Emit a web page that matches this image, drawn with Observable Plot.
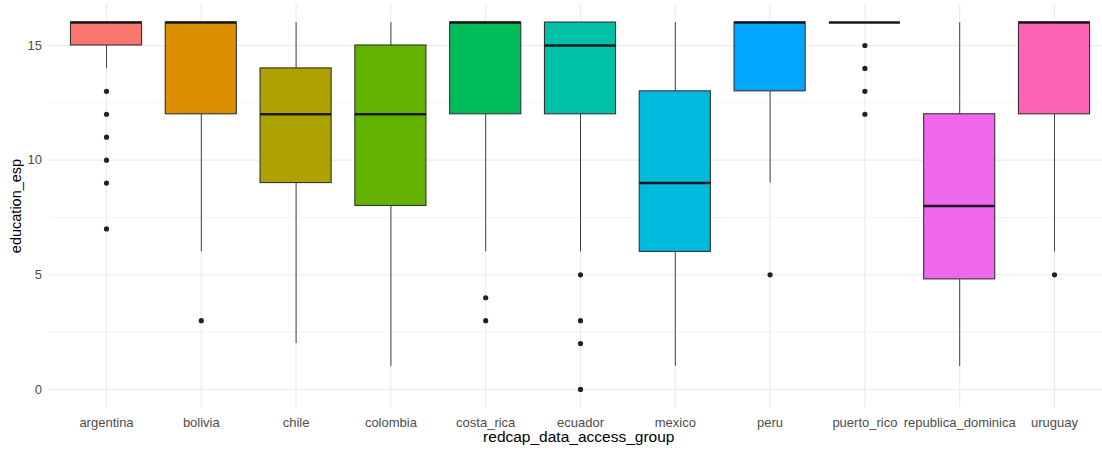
<!DOCTYPE html>
<html>
<head>
<meta charset="utf-8">
<script src="https://cdn.jsdelivr.net/npm/d3@7"></script>
<script src="https://cdn.jsdelivr.net/npm/@observablehq/plot@0.6"></script>
<style>
  html, body { margin: 0; padding: 0; background: #ffffff; }
  #chart svg { display: block; }
</style>
</head>
<body>
<div id="chart"></div>
<script>
// ---- data ----
const categories = ["argentina", "bolivia", "chile", "colombia", "costa_rica", "ecuador", "mexico", "peru", "puerto_rico", "republica_dominica", "uruguay"];
const colors = ["#F8766D", "#DB8E00", "#AEA200", "#64B200", "#00BD5C", "#00C1A7", "#00BADE", "#00A6FF", "#B385FF", "#EF67EB", "#FF63B6"];
const whiskerLow = [14, 6, 2, 1, 6, 6, 1, 9, 16, 1, 6];
const q1 =         [15, 12, 9, 8, 12, 12, 6, 13, 16, 4.8, 12];
const median =     [16, 16, 12, 12, 16, 15, 9, 16, 16, 8, 16];
const q3 =         [16, 16, 14, 15, 16, 16, 13, 16, 16, 12, 16];
const whiskerHigh =[16, 16, 16, 16, 16, 16, 16, 16, 16, 16, 16];
const outlierGroup = ["argentina", "argentina", "argentina", "argentina", "argentina", "argentina",
  "bolivia", "costa_rica", "costa_rica", "ecuador", "ecuador", "ecuador", "ecuador",
  "peru", "puerto_rico", "puerto_rico", "puerto_rico", "puerto_rico", "uruguay"];
const outlierValue = [13, 12, 11, 10, 9, 7,
  3, 4, 3, 5, 3, 2, 0,
  5, 15, 14, 13, 12, 5];
const yTicks = [0, 5, 10, 15];
const yMinor = [2.5, 7.5, 12.5];
const xTitle = "redcap_data_access_group";
const yTitle = "education_esp";

// ---- tables built from the arrays ----
const boxes = categories.map((g, i) => ({
  group: g, lo: whiskerLow[i], q1: q1[i], med: median[i], q3: q3[i], hi: whiskerHigh[i]
}));
const outliers = outlierGroup.map((g, i) => ({group: g, value: outlierValue[i]}));

const W = 1102, H = 453;
const chart = Plot.plot({
  width: W,
  height: H,
  marginTop: 3.7,
  marginBottom: 45.7,
  marginLeft: 48.5,
  marginRight: 0,
  style: {fontFamily: "'Liberation Sans', Arial, sans-serif", background: "#ffffff"},
  x: {type: "band", domain: categories, range: [58.6, 1101.4], paddingInner: 0.25, paddingOuter: 0.125, align: 0.5, round: false},
  y: {domain: [-0.8, 16.8]},
  color: {domain: categories, range: colors},
  marks: [
    Plot.ruleY(yMinor, {stroke: "#ebebeb", strokeWidth: 0.6}),
    Plot.ruleY(yTicks, {stroke: "#ebebeb", strokeWidth: 1.1}),
    Plot.ruleX(categories, {x: d => d, stroke: "#ebebeb", strokeWidth: 1.1}),
    Plot.ruleX(boxes, {x: "group", y1: "lo", y2: "q1", stroke: "#444444", strokeWidth: 1}),
    Plot.ruleX(boxes, {x: "group", y1: "q3", y2: "hi", stroke: "#444444", strokeWidth: 1}),
    Plot.barY(boxes, {x: "group", y1: "q1", y2: "q3", fill: "group", stroke: "#333333", strokeWidth: 1.1}),
    Plot.tickY(boxes, {x: "group", y: "med", stroke: "#1a1a1a", strokeWidth: 2.4}),
    Plot.dot(outliers, {x: "group", y: "value", r: 2.6, fill: "#222222", stroke: "none"}),
    Plot.axisY({ticks: yTicks, tickSize: 0, tickPadding: 7, fontSize: 13, color: "#4d4d4d", label: null}),
    Plot.axisX({tickSize: 0, tickPadding: 9.5, fontSize: 13, color: "#4d4d4d", label: null}),
    Plot.text([xTitle], {frameAnchor: "bottom", dy: 33.7, dx: 3, fontSize: 15.5, fill: "#000000", textAnchor: "middle"}),
    Plot.text([yTitle], {frameAnchor: "left", dx: -32.5, rotate: -90, fontSize: 14.5, fill: "#000000", textAnchor: "middle"})
  ]
});
document.getElementById("chart").appendChild(chart);
</script>
</body>
</html>
